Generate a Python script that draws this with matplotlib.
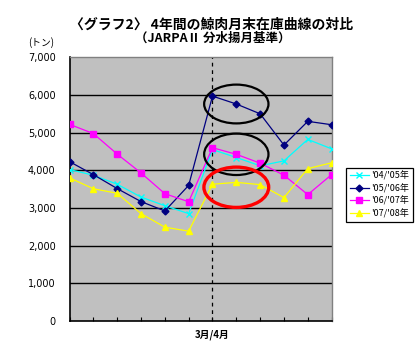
import matplotlib
matplotlib.use("Agg")
import matplotlib.pyplot as plt
from matplotlib.patches import Ellipse

plt.rcParams['font.family'] = ['Noto Sans CJK JP', 'DejaVu Sans']

# ---- data ----
tick_labels = ["", "", "", "", "", "", "3月/4月", "", "", "", "", ""]
series_names = ["'04/'05年", "'05/'06年", "'06/'07年", "'07/'08年"]
s0405 = [4020, 3870, 3630, 3290, 3060, 2850, 4550, 4340, 4120, 4250, 4820, 4570]
s0506 = [4230, 3885, 3515, 3170, 2920, 3600, 5970, 5760, 5500, 4670, 5300, 5210]
s0607 = [5220, 4975, 4430, 3930, 3380, 3165, 4600, 4425, 4190, 3870, 3355, 3885]
s0708 = [3800, 3510, 3390, 2850, 2490, 2385, 3630, 3680, 3620, 3275, 4045, 4200]
yticks = [0, 1000, 2000, 3000, 4000, 5000, 6000, 7000]

fig = plt.figure(figsize=(4.19, 3.55), dpi=100)
ax = fig.add_axes([0.166, 0.0958, 0.6254, 0.7428])
ax.set_facecolor('#C0C0C0')

x = list(range(len(tick_labels)))
styles = [
    dict(color='#00FFFF', marker='x', markersize=4, markeredgewidth=1.0),
    dict(color='#000080', marker='D', markersize=3.5),
    dict(color='#FF00FF', marker='s', markersize=4.5),
    dict(color='#FFFF00', marker='^', markersize=5),
]
for vals, name, st in zip([s0405, s0506, s0607, s0708], series_names, styles):
    ax.plot(x, vals, linewidth=0.9, label=name, zorder=3, **st)

ax.set_xlim(0, len(x) - 1)
ax.set_ylim(0, 7000)
ax.set_yticks(yticks)
ax.set_yticklabels([f"{v:,}" for v in yticks], fontsize=7, family='DejaVu Sans')
ax.set_xticks(x)
ax.set_xticklabels(tick_labels, fontsize=7, fontweight='bold')
ax.tick_params(axis='x', direction='in', length=3, width=0.8, pad=6)
ax.tick_params(axis='y', direction='out', length=0, pad=10)

for v in yticks[1:-1]:
    ax.axhline(v, color='black', linewidth=1.0, zorder=1)

ax.axvline(6, color='black', linestyle=(0, (3, 3)), linewidth=0.9, zorder=2)

for side in ['top', 'right']:
    ax.spines[side].set_color('#808080')
    ax.spines[side].set_linewidth(1.0)
for side in ['left', 'bottom']:
    ax.spines[side].set_color('black')
    ax.spines[side].set_linewidth(1.2)

# annotation ellipses
ax.add_patch(Ellipse((7, s0506[7]), 2.7, 1030, fill=False, edgecolor='black', linewidth=1.6, zorder=4))
ax.add_patch(Ellipse((7, s0607[7]), 2.7, 1100, fill=False, edgecolor='black', linewidth=1.6, zorder=4))
ax.add_patch(Ellipse((7, s0708[7] - 130), 2.72, 1070, fill=False, edgecolor='#FF0000', linewidth=2.4, zorder=4))

leg = fig.legend(loc='upper left', bbox_to_anchor=(0.8265, 0.528), fontsize=6.5,
                 frameon=True, fancybox=False, edgecolor='black', framealpha=1,
                 handlelength=2.1, handletextpad=0.3, borderpad=0.4, labelspacing=0.35,
                 borderaxespad=0)
leg.get_frame().set_linewidth(0.9)

fig.text(0.504, 0.93, "〈グラフ2〉 4年間の鯨肉月末在庫曲線の対比", ha='center', va='center',
         fontsize=10, fontweight='bold')
fig.text(0.507, 0.893, "（JARPAⅡ 分水揚月基準）", ha='center', va='center',
         fontsize=9, fontweight='bold')
fig.text(0.099, 0.879, "(トン)", ha='center', va='center', fontsize=7)

fig.savefig("out.png", dpi=100, facecolor='white')
